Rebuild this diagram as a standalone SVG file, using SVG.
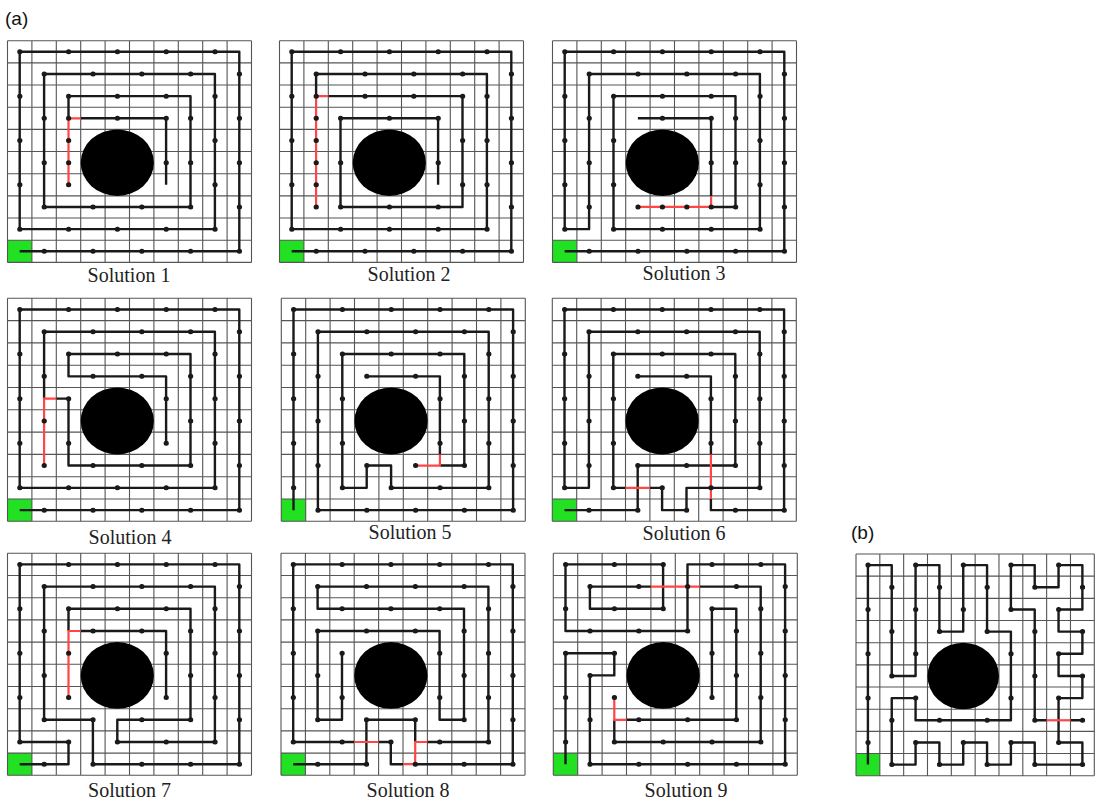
<svg xmlns="http://www.w3.org/2000/svg" xmlns:xlink="http://www.w3.org/1999/xlink" width="1098" height="800" viewBox="0 0 1098 800">
<style>
.gl{fill:none;stroke:#555;stroke-width:1.1;vector-effect:non-scaling-stroke}
.bk{fill:none;stroke:#1a1a1a;stroke-width:2.4;stroke-linejoin:round;vector-effect:non-scaling-stroke}
.rd{fill:none;stroke:#ff4545;stroke-width:2.2;vector-effect:non-scaling-stroke}
.dt{fill:none;stroke:#1a1a1a;stroke-width:5;stroke-linecap:round;vector-effect:non-scaling-stroke}
.lab{font-family:"Liberation Serif","Times New Roman",serif;font-size:20px;fill:#222;text-anchor:middle}
.tag{font-family:"Liberation Sans",Arial,sans-serif;font-size:19px;fill:#111}
</style>
<defs>
<g id="grid">
<rect x="0" y="0" width="10" height="10" fill="#fff"/>
<rect x="0" y="9" width="1" height="1" fill="#22e022"/>
<path class="gl" d="M0 0V10M1 0V10M2 0V10M3 0V10M4 0V10M5 0V10M6 0V10M7 0V10M8 0V10M9 0V10M10 0V10M0 0H10M0 1H10M0 2H10M0 3H10M0 4H10M0 5H10M0 6H10M0 7H10M0 8H10M0 9H10M0 10H10"/>
<ellipse cx="4.5" cy="5.5" rx="1.5" ry="1.5" fill="#000"/>
</g>
<path id="dotsOuter" class="dt" d="M0 0h.01M2 0h.01M4 0h.01M6 0h.01M8 0h.01M1 1h.01M3 1h.01M5 1h.01M7 1h.01M9 1h.01M0 8h.01M2 8h.01M4 8h.01M6 8h.01M8 8h.01M1 9h.01M3 9h.01M5 9h.01M7 9h.01M9 9h.01M0 2h.01M8 2h.01M1 3h.01M9 3h.01M0 4h.01M8 4h.01M1 5h.01M9 5h.01M0 6h.01M8 6h.01M1 7h.01M9 7h.01"/>
<path id="dotsInner" class="dt" d="M2 2h.01M4 2h.01M6 2h.01M3 3h.01M5 3h.01M7 3h.01M2 4h.01M6 4h.01M7 5h.01M2 6h.01M6 6h.01M3 7h.01M5 7h.01M7 7h.01"/>
</defs>
<rect width="1098" height="800" fill="#fff"/>
<text class="tag" x="5" y="25">(a)</text>
<text class="tag" x="851" y="539">(b)</text>

<g id="sol1">
<g transform="translate(7.5 40.7) scale(24.4 22.17)">
<use href="#grid"/>
<g transform="translate(.5 .5)">
<path class="bk" d="M0 9H9V0H0V8H8V1H1V7H7V2H2V3M2.5 3H6V6"/>
<path class="rd" d="M2.5 3H2V6"/>
<use href="#dotsOuter"/>
<path class="dt" d="M2 2h.01M4 2h.01M6 2h.01M2 3h.01M4 3h.01M6 3h.01M7 3h.01M2 4h.01M2 5h.01M6 5h.01M7 5h.01M2 6h.01M3 7h.01M5 7h.01M7 7h.01"/>
</g>
</g>
<text class="lab" x="129" y="282">Solution 1</text>
</g>

<g id="sol2">
<g transform="translate(279.5 40.7) scale(24.4 22.17)">
<use href="#grid"/>
<g transform="translate(.5 .5)">
<path class="bk" d="M0 9H9V0H0V8H8V1H1V2M1.5 2H7V7H2V3H6V6"/>
<path class="rd" d="M1.5 2H1V7"/>
<use href="#dotsOuter"/>
<path class="dt" d="M1 2h.01M1 4h.01M1 6h.01M3 2h.01M5 2h.01M7 2h.01M7 4h.01M7 6h.01M6 7h.01M4 7h.01M2 7h.01M2 5h.01M2 3h.01M4 3h.01M6 3h.01M6 5h.01"/>
</g>
</g>
<text class="lab" x="409" y="281">Solution 2</text>
</g>

<g id="sol3">
<g transform="translate(552.5 40.7) scale(24.4 22.17)">
<use href="#grid"/>
<g transform="translate(.5 .5)">
<path class="bk" d="M0 9H9V0H0V8H1V1H8V8H2V2H7V7H6M6 6.5V3H3"/>
<path class="rd" d="M6 6.5V7H3"/>
<use href="#dotsOuter"/>
<path class="dt" d="M2 2h.01M4 2h.01M6 2h.01M7 3h.01M2 4h.01M7 5h.01M2 6h.01M7 7h.01M3 7h.01M4 7h.01M5 7h.01M6 7h.01M4 3h.01M6 3h.01M6 5h.01"/>
</g>
</g>
<text class="lab" x="684" y="280">Solution 3</text>
</g>

<g id="sol4">
<g transform="translate(7.5 298.3) scale(24.4 22.3)">
<use href="#grid"/>
<g transform="translate(.5 .5)">
<path class="bk" d="M0 9H9V0H0V8H8V1H1V4M1.5 4H2V7H7V2H2V3H6V6"/>
<path class="rd" d="M1.5 4H1V7"/>
<use href="#dotsOuter"/>
<use href="#dotsInner"/>
</g>
</g>
<text class="lab" x="130" y="544">Solution 4</text>
</g>

<g id="sol5">
<g transform="translate(281.3 298.3) scale(24.4 22.3)">
<use href="#grid"/>
<g transform="translate(.5 .5)">
<path class="bk" d="M0 9V0H9V9H1V1H8V8H4V7H3V8H2V2H7V7H6M6 6.5V3H3"/>
<path class="rd" d="M5 7H6V6.5"/>
<use href="#dotsOuter"/>
<use href="#dotsInner"/>
</g>
</g>
<text class="lab" x="410" y="539">Solution 5</text>
</g>

<g id="sol6">
<g transform="translate(552.3 298.3) scale(24.4 22.3)">
<use href="#grid"/>
<g transform="translate(.5 .5)">
<path class="bk" d="M0 9H3V7H7V2H2V8H2.5M3.5 8H4V9H5V8H8V1H1V8H0V0H9V9H6V8.5M6 6.5V3H3"/>
<path class="rd" d="M2.5 8H3.5M6 8.5V6.5"/>
<use href="#dotsOuter"/>
<use href="#dotsInner"/>
</g>
</g>
<text class="lab" x="684" y="540">Solution 6</text>
</g>

<g id="sol7">
<g transform="translate(7.5 553.3) scale(24.4 22.2)">
<use href="#grid"/>
<g transform="translate(.5 .5)">
<path class="bk" d="M0 9H2V8H0V0H9V9H3V7H1V1H8V8H4V7H7V2H2V3M2.5 3H6V6"/>
<path class="rd" d="M2.5 3H2V6"/>
<use href="#dotsOuter"/>
<use href="#dotsInner"/>
</g>
</g>
<text class="lab" x="129.5" y="797">Solution 7</text>
</g>

<g id="sol8">
<g transform="translate(281 553.3) scale(24.4 22.2)">
<use href="#grid"/>
<g transform="translate(.5 .5)">
<path class="bk" d="M0 9H3V7H5V8M5 9H9V0H0V8H2.5M3.5 8H4V9H4.5M5.5 8H8V1H1V2H7V7H6V3H1V7H2V4"/>
<path class="rd" d="M4.5 9H5V8H5.5M2.5 8H3.5"/>
<use href="#dotsOuter"/>
<use href="#dotsInner"/>
</g>
</g>
<text class="lab" x="408" y="797">Solution 8</text>
</g>

<g id="sol9">
<g transform="translate(553.3 553.3) scale(24.4 22.2)">
<use href="#grid"/>
<g transform="translate(.5 .5)">
<path class="bk" d="M0 9V4H2V5H1V9H9V0H5V3H0V0H4V2H1V1H3.5M5.5 1H8V8H2V7M2.5 7H7V2H6V6"/>
<path class="rd" d="M3.5 1H5.5M2 6V7H2.5"/>
<use href="#dotsOuter"/>
<use href="#dotsInner"/>
</g>
</g>
<text class="lab" x="686" y="797">Solution 9</text>
</g>

<g id="panel-b">
<g transform="translate(856 554) scale(23.83 22.17)">
<use href="#grid"/>
<g transform="translate(.5 .5)">
<path class="bk" d="M0 9V0H1V5H2V0H3V3H4V0H5V3H6V7H2V6H1V9H2V8H3V9H4V8H5V9H6V8H7V9H9V8H8V6H9V5H8V4H9V3H8V2H9V0H8V1H7V0H6V2H7V7H7.5M8.5 7H9"/>
<path class="rd" d="M7.5 7H8.5"/>
<use href="#dotsOuter"/>
<use href="#dotsInner"/>
</g>
</g>
</g>
</svg>
